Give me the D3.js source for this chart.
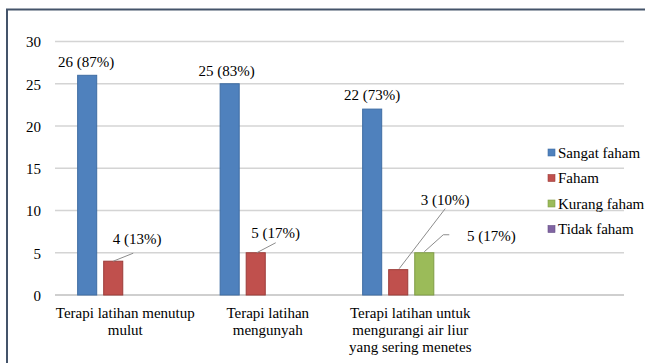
<!DOCTYPE html>
<html>
<head>
<meta charset="utf-8">
<script src="https://cdn.jsdelivr.net/npm/d3@7"></script>
<style>
  html, body { margin: 0; padding: 0; background: #fff; }
  svg { display: block; }
  svg text { font-family: "Liberation Serif", "Times New Roman", Times, serif !important; fill: #000; }
</style>
</head>
<body>
<svg id="chart" width="645" height="363" font-family="Liberation Serif"></svg>
<script>
// ---- data ----
const categories = [
  "Terapi latihan menutup mulut",
  "Terapi latihan mengunyah",
  "Terapi latihan untuk mengurangi air liur yang sering menetes",
  ""
];
const seriesNames = ["Sangat faham", "Faham", "Kurang faham", "Tidak faham"];
const sangatFaham = [26, 25, 22, null];
const faham       = [4, 5, 3, null];
const kurangFaham = [0, 0, 5, null];
const tidakFaham  = [0, 0, 0, null];
const sangatFahamPct = ["87%", "83%", "73%", null];
const fahamPct       = ["13%", "17%", "10%", null];
const kurangFahamPct = [null, null, "17%", null];
const tidakFahamPct  = [null, null, null, null];
const yTicks = [0, 5, 10, 15, 20, 25, 30];

// ---- layout / style ----
const FONT = '"Liberation Serif", "Times New Roman", Times, serif';
const colors = ["#4f81bd", "#c0504d", "#9bbb59", "#8064a2"];
const strokes = ["#3f6da3", "#9c3c39", "#7f9c45", "#654e85"];
const seriesValues = [sangatFaham, faham, kurangFaham, tidakFaham];
const seriesPct = [sangatFahamPct, fahamPct, kurangFahamPct, tidakFahamPct];
// label placement relative to bar-top centre: [dx, dy] and optional leader path
const labelLayout = {
  "0-0": {dx: -1, dy: -8}, "0-1": {dx: -3, dy: -8}, "0-2": {dx: 0, dy: -9},
  "1-0": {dx: 24, dy: -17, leader: [[0, 0], [20, -8]]},
  "1-1": {dx: 20, dy: -15, leader: [[1, 0], [20, -10]]},
  "1-2": {dx: 47, dy: -65, leader: [[1, -1], [47, -61]]},
  "2-2": {dx: 67, dy: -12, leader: [[0, -1], [19, -18], [25, -18]]}
};

const svg = d3.select("#chart");
const plotL = 55, plotR = 625, plotT = 41.5, plotB = 295;

const x0 = d3.scaleBand().domain(d3.range(categories.length)).range([plotL, plotR]).padding(0);
const x1 = d3.scaleBand().domain(d3.range(seriesNames.length))
  .range([0, x0.bandwidth()]).paddingInner(0.23).paddingOuter(0.85);
const y = d3.scaleLinear().domain([0, 30]).range([plotB, plotT]);

// border
svg.append("path")
  .attr("d", `M7,370 L7,9.5 L650,9.5`)
  .attr("fill", "none").attr("stroke", "#44546a").attr("stroke-width", 2);

// gridlines
svg.append("g").selectAll("line").data(yTicks).join("line")
  .attr("x1", plotL).attr("x2", plotR - 1)
  .attr("y1", d => y(d)).attr("y2", d => y(d))
  .attr("stroke", d => d === 0 ? "#bfbfbf" : "#d4d4d4")
  .attr("stroke-width", 1.3);

// y axis labels
const yAxis = d3.axisLeft(y).tickValues(yTicks).tickSize(0).tickPadding(0);
const gy = svg.append("g").attr("transform", "translate(41,0)").call(yAxis)
  .attr("font-family", FONT).attr("font-size", 15);
gy.select(".domain").remove();
gy.selectAll("text").attr("font-size", 15).attr("dy", "0.35em")
  .attr("font-family", FONT).attr("fill", "#000");

// bars
const barData = [];
seriesValues.forEach((vals, s) => vals.forEach((v, c) => {
  if (v != null) barData.push({s, c, v, pct: seriesPct[s][c]});
}));
svg.append("g").selectAll("rect").data(barData.filter(d => d.v > 0)).join("rect")
  .attr("x", d => x0(d.c) + x1(d.s) + 0.5)
  .attr("y", d => y(d.v))
  .attr("width", x1.bandwidth() - 1)
  .attr("height", d => y(0) - y(d.v))
  .attr("fill", d => colors[d.s])
  .attr("stroke", d => strokes[d.s]).attr("stroke-width", 1);

// data labels
const lg = svg.append("g");
barData.filter(d => d.v > 0 && d.pct).forEach(d => {
  const cx = x0(d.c) + x1(d.s) + x1.bandwidth() / 2;
  const ty = y(d.v);
  const L = labelLayout[d.s + "-" + d.c] || {dx: 0, dy: -8};
  if (L.leader) {
    lg.append("path")
      .attr("d", d3.line()(L.leader.map(p => [cx + p[0], ty + p[1]])))
      .attr("fill", "none").attr("stroke", "#8c8c8c").attr("stroke-width", 1);
  }
  lg.append("text")
    .attr("x", cx + L.dx).attr("y", ty + L.dy)
    .attr("text-anchor", "middle").attr("font-size", 15).attr("font-family", FONT)
    .text(`${d.v} (${d.pct})`);
});

// category labels with wrapping
function wrapLines(str, width, size) {
  const ctx = document.createElement("canvas").getContext("2d");
  ctx.font = `${size}px "Liberation Serif", serif`;
  const words = str.split(/\s+/).filter(Boolean);
  const lines = [];
  let cur = "";
  words.forEach(w => {
    const t = cur ? cur + " " + w : w;
    if (ctx.measureText(t).width > width && cur) { lines.push(cur); cur = w; }
    else cur = t;
  });
  if (cur) lines.push(cur);
  return lines;
}
const cg = svg.append("g");
categories.forEach((c, i) => {
  const lines = wrapLines(c, x0.bandwidth() + 2, 15);
  const cxp = x0(i) + x0.bandwidth() / 2 - 1;
  const t = cg.append("text").attr("text-anchor", "middle").attr("font-size", 15)
    .attr("font-family", FONT).attr("x", cxp).attr("y", 317.5);
  lines.forEach((ln, k) => {
    t.append("tspan").attr("x", cxp).attr("dy", k === 0 ? 0 : 17).text(ln);
  });
});

// legend
const leg = svg.append("g");
seriesNames.forEach((n, i) => {
  const cy = 152.5 + i * 25.5;
  leg.append("rect").attr("x", 548).attr("y", cy - 3.5).attr("width", 7).attr("height", 7)
    .attr("fill", colors[i]).attr("stroke", strokes[i]).attr("stroke-width", 0.6);
  leg.append("text").attr("x", 558).attr("y", cy).attr("dy", "0.35em")
    .attr("font-size", 15).attr("font-family", FONT).text(n);
});
</script>
</body>
</html>
